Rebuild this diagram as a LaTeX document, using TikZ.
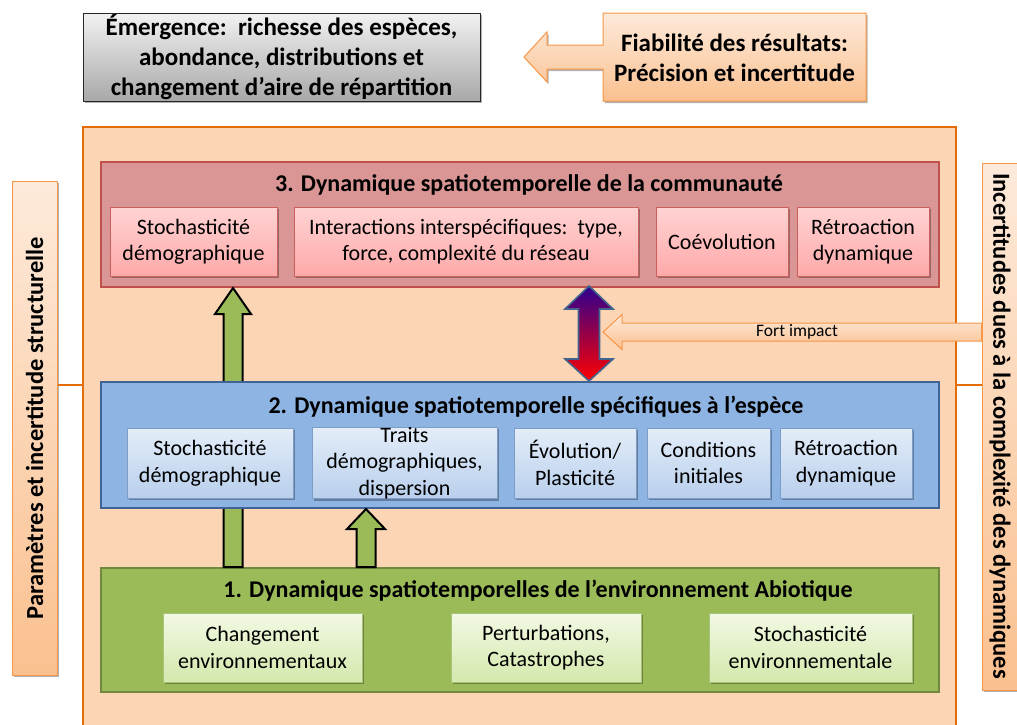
\documentclass[tikz,border=0pt]{standalone}
\usepackage{fontspec}
\setmainfont{Carlito}
\usetikzlibrary{shadows,calc}
\definecolor{frameor}{HTML}{E46C0A}
\definecolor{bgor}{HTML}{FCD5B5}
\definecolor{lor1}{HTML}{FDEADA}
\definecolor{lor2}{HTML}{FAC08F}
\definecolor{lorb}{HTML}{F79646}
\definecolor{redf}{HTML}{D99694}
\definecolor{redb}{HTML}{C0504D}
\definecolor{rs1}{HTML}{FFD3D3}
\definecolor{rs2}{HTML}{FFA9A9}
\definecolor{rsb}{HTML}{C9605C}
\definecolor{bluef}{HTML}{8EB4E3}
\definecolor{blueb}{HTML}{3F6396}
\definecolor{bs1}{HTML}{E3EDF9}
\definecolor{bs2}{HTML}{B9CFEC}
\definecolor{bsb}{HTML}{7E9DC6}
\definecolor{greenf}{HTML}{9BBB59}
\definecolor{greenb}{HTML}{71893F}
\definecolor{gs1}{HTML}{F2F9E4}
\definecolor{gs2}{HTML}{D4E8AC}
\definecolor{gsb}{HTML}{A9C47A}
\definecolor{gray1}{HTML}{F2F2F2}
\definecolor{gray2}{HTML}{A8A8A8}
\definecolor{dtop}{HTML}{2E0090}
\definecolor{dmid}{HTML}{9B0070}
\definecolor{dbot}{HTML}{FF0000}
\definecolor{dbord}{HTML}{41648F}
\tikzset{
  box/.style={inner sep=0pt, align=center, text=black},
  shad/.style={drop shadow={shadow xshift=1.5pt, shadow yshift=-2pt, opacity=0.3, fill=black}},
  subfont/.style={font=\fontsize{22}{26.5}\selectfont},
  titlefont/.style={font=\bfseries\fontsize{24}{28}\selectfont},
  topfont/.style={font=\bfseries\fontsize{25}{30}\selectfont},
  sidefont/.style={font=\bfseries\fontsize{24.5}{28}\selectfont},
  orangeshade/.style={top color=lor1, bottom color=lor2, draw=lorb, line width=1pt},
  redsub/.style={box, subfont, shad, top color=rs1, bottom color=rs2, draw=rsb, line width=0.8pt, minimum height=69pt},
  bluesub/.style={box, subfont, shad, top color=bs1, bottom color=bs2, draw=bsb, line width=0.8pt, minimum height=70pt},
  greensub/.style={box, subfont, shad, top color=gs1, bottom color=gs2, draw=gsb, line width=0.6pt, minimum height=69pt},
  bigbox/.style={box, minimum width=838pt, line width=2pt},
  garrow/.style={fill=greenf, draw=black, line width=2pt, line join=miter},
  link/.style={draw=frameor, line width=2pt}
}
\begin{document}
\begin{tikzpicture}[x=1pt,y=-1pt]
\useasboundingbox (0,0) rectangle (1017,724);
% frame
\node[box, fill=bgor, draw=frameor, line width=2.5pt, minimum width=873pt, minimum height=640pt] (frame) at (519.5,447) {};
% sidebars
\node[box, orangeshade, shad, minimum width=45pt, minimum height=494pt] (lside) at (34.5,428) {};
\node[rotate=90, sidefont] (ltext) at (lside.center) {Paramètres et incertitude structurelle};
\node[box, orangeshade, shad, minimum width=40pt, minimum height=527pt] (rside) at (1002,426.5) {};
\node[rotate=-90, sidefont] (rtext) at (1000,426) {Incertitudes dues à la complexité des dynamiques};
\coordinate (ly) at (0,385);
\draw[link] (lside.east |- ly) -- (frame.west |- ly);
\draw[link] (frame.east |- ly) -- (rside.west |- ly);
% top boxes
\node[box, topfont, shad, top color=gray1, bottom color=gray2, draw=black!85, line width=0.8pt, minimum width=397pt, minimum height=88pt] (emerg) at (281.5,57) {Émergence:\ \ richesse des espèces,\\abondance, distributions et\\changement d’aire de répartition};
\draw[orangeshade, shad] (603,13) -- (866,13) -- (866,101) -- (603,101) -- (603,69) -- (547,69) -- (547,82) -- (524,57) -- (547,32) -- (547,45) -- (603,45) -- cycle;
\node[box, topfont] (fiab) at (734.5,58) {Fiabilité des résultats:\\Précision et incertitude};
% big boxes
\node[bigbox, fill=redf, draw=redb, minimum height=125pt] (red) at (520,224.5) {};
\node[bigbox, fill=greenf, draw=greenb, minimum height=124pt] (green) at (520,630) {};
% long green arrow (behind blue box)
\coordinate (xa1) at (233,0);
\coordinate (a1b) at (green.north -| xa1);
\coordinate (a1t) at (red.south -| xa1);
\draw[garrow] ([xshift=-9.5pt]a1b) -- ([xshift=-9.5pt,yshift=-26pt]a1t) -- ([xshift=-18pt,yshift=-26pt]a1t) -- (a1t) -- ([xshift=18pt,yshift=-26pt]a1t) -- ([xshift=9.5pt,yshift=-26pt]a1t) -- ([xshift=9.5pt]a1b) -- cycle;
\node[bigbox, fill=bluef, draw=blueb, minimum height=126pt] (blue) at (520,445) {};
% titles
\node[box, titlefont] (t3) at (529,185) {3. Dynamique spatiotemporelle de la communauté};
\node[box, titlefont] (t2) at (536,407) {2. Dynamique spatiotemporelle spécifiques à l’espèce};
\node[box, titlefont] (t1) at (538,591) {1. Dynamique spatiotemporelles de l’environnement Abiotique};
% red subs
\node[redsub, minimum width=167pt] (r1) at (193.5,241.5) {Stochasticité\\démographique};
\node[redsub, minimum width=344pt] (r2) at (466,241.5) {Interactions interspécifiques:\ \ type,\\force, complexité du réseau};
\node[redsub, minimum width=132pt] (r3) at (722,241.5) {Coévolution};
\node[redsub, minimum width=132pt] (r4) at (863,241.5) {Rétroaction\\dynamique};
% blue subs
\node[bluesub, minimum width=166pt] (b1) at (210,463) {Stochasticité\\démographique};
\node[bluesub, minimum width=185pt] (b2) at (404.5,463) {Traits\\démographiques,\\dispersion};
\node[bluesub, minimum width=122pt] (b3) at (575,463) {Évolution/\\Plasticité};
\node[bluesub, minimum width=123pt] (b4) at (708.5,463) {Conditions\\initiales};
\node[bluesub, minimum width=132pt] (b5) at (846,463) {Rétroaction\\dynamique};
% green subs
\node[greensub, minimum width=199pt] (g1) at (262.5,647.5) {Changement\\environnementaux};
\node[greensub, minimum width=190pt] (g2) at (546,647.5) {Perturbations,\\Catastrophes};
\node[greensub, minimum width=203pt] (g3) at (810.5,647.5) {Stochasticité\\environnementale};
% short green arrow
\coordinate (xa2) at (366,0);
\coordinate (a2b) at (green.north -| xa2);
\coordinate (a2t) at (blue.south -| xa2);
\draw[garrow] ([xshift=-9.5pt]a2b) -- ([xshift=-9.5pt,yshift=-20pt]a2t) -- ([xshift=-19pt,yshift=-20pt]a2t) -- (a2t) -- ([xshift=19pt,yshift=-20pt]a2t) -- ([xshift=9.5pt,yshift=-20pt]a2t) -- ([xshift=9.5pt]a2b) -- cycle;
% double arrow
\coordinate (xd) at (589,0);
\coordinate (dt) at ([yshift=2pt]red.south -| xd);
\coordinate (db) at (blue.north -| xd);
\draw[top color=dtop, middle color=dmid, bottom color=dbot, draw=dbord, line width=1.6pt, line join=miter]
  (dt) -- ([xshift=24pt,yshift=-23pt]dt) -- ([xshift=10.5pt,yshift=-23pt]dt) -- ([xshift=10.5pt,yshift=22pt]db) -- ([xshift=24pt,yshift=22pt]db) -- (db)
  -- ([xshift=-24pt,yshift=22pt]db) -- ([xshift=-10.5pt,yshift=22pt]db) -- ([xshift=-10.5pt,yshift=-23pt]dt) -- ([xshift=-24pt,yshift=-23pt]dt) -- cycle;
% fort impact arrow
\coordinate (fy) at (0,332);
\coordinate (ftail) at (rside.west |- fy);
\coordinate (ftip) at ([xshift=14pt]xd |- fy);
\draw[top color=lor1, bottom color=lor2, draw=lorb, line width=1pt]
  (ftip) -- ([xshift=19pt,yshift=17.5pt]ftip) -- ([xshift=19pt,yshift=9pt]ftip) -- ([yshift=9pt]ftail) -- ([yshift=-9pt]ftail) -- ([xshift=19pt,yshift=-9pt]ftip) -- ([xshift=19pt,yshift=-17.5pt]ftip) -- cycle;
\node[box, font=\fontsize{17.5}{20}\selectfont] (fort) at (797,332) {Fort impact};
\end{tikzpicture}
\end{document}
